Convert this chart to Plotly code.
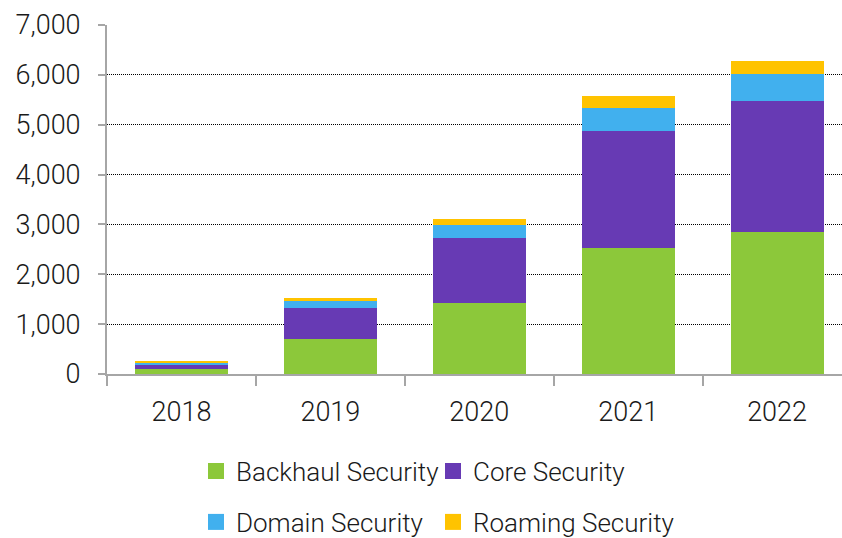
import plotly.graph_objects as go

# Categories and stacked series values
years = ["2018", "2019", "2020", "2021", "2022"]
backhaul = [100, 695, 1417, 2525, 2846]
core = [100, 634, 1302, 2351, 2631]
domain = [30, 128, 261, 461, 541]
roaming = [20, 73, 130, 243, 261]

y_ticks = [0, 1000, 2000, 3000, 4000, 5000, 6000, 7000]
y_tick_text = ["0", "1,000", "2,000", "3,000", "4,000", "5,000", "6,000", "7,000"]

# name, values, colour, legend id, legend anchor (container px: x, y)
series = [
    ("Backhaul Security", backhaul, "#8CC83A", "legend", (196, 471)),
    ("Core Security", core, "#673AB4", "legend2", (433, 471)),
    ("Domain Security", domain, "#41B0EE", "legend3", (196, 522)),
    ("Roaming Security", roaming, "#FFC300", "legend4", (433, 522)),
]

FONT = "Roboto"
TEXT = "#1a1a1a"
AXIS = "#a6a6a6"
W, H = 842, 538

fig = go.Figure()
for name, vals, color, _, _ in series:
    fig.add_trace(go.Bar(
        x=years, y=vals, name=name, marker=dict(color=color, line=dict(width=0)),
        showlegend=False,
    ))

# Square legend swatches, one legend box per entry (2 x 2 grid)
legends = {}
for name, vals, color, leg, (lx, ly) in series:
    fig.add_trace(go.Scatter(
        x=[None], y=[None], mode="markers", name=name,
        marker=dict(symbol="square", size=16, color=color),
        legend=leg, showlegend=True,
    ))
    legends[leg] = dict(
        x=lx / W, y=1 - ly / H,
        orientation="h", xanchor="left", yanchor="middle",
        xref="container", yref="container",
        font=dict(family=FONT, size=26, color=TEXT, weight=300),
        bgcolor="rgba(0,0,0,0)", borderwidth=0,
        itemclick=False, itemdoubleclick=False,
    )

fig.update_layout(
    width=W, height=H,
    margin=dict(l=107, r=0, t=25, b=164, autoexpand=False),
    paper_bgcolor="white", plot_bgcolor="white",
    barmode="stack", bargap=0.375,
    font=dict(family=FONT, color=TEXT),
    xaxis=dict(
        type="category", range=[-0.5, 4.436],
        showline=True, linecolor=AXIS, linewidth=2,
        ticks="outside", tickson="boundaries", ticklen=10, tickwidth=2, tickcolor=AXIS,
        tickfont=dict(family=FONT, size=27, color=TEXT, weight=300),
        ticklabelstandoff=13,
        showgrid=False, zeroline=False,
    ),
    yaxis=dict(
        range=[0, 7000], tickvals=y_ticks, ticktext=y_tick_text,
        showline=True, linecolor=AXIS, linewidth=2,
        ticks="outside", ticklen=7, tickwidth=2, tickcolor=AXIS,
        tickfont=dict(family=FONT, size=27, color=TEXT, weight=300),
        ticklabelstandoff=12,
        showgrid=True, gridcolor="#000000", gridwidth=1, griddash="1px,1px",
        zeroline=False,
    ),
    **legends,
)

fig.write_html("out.html")
